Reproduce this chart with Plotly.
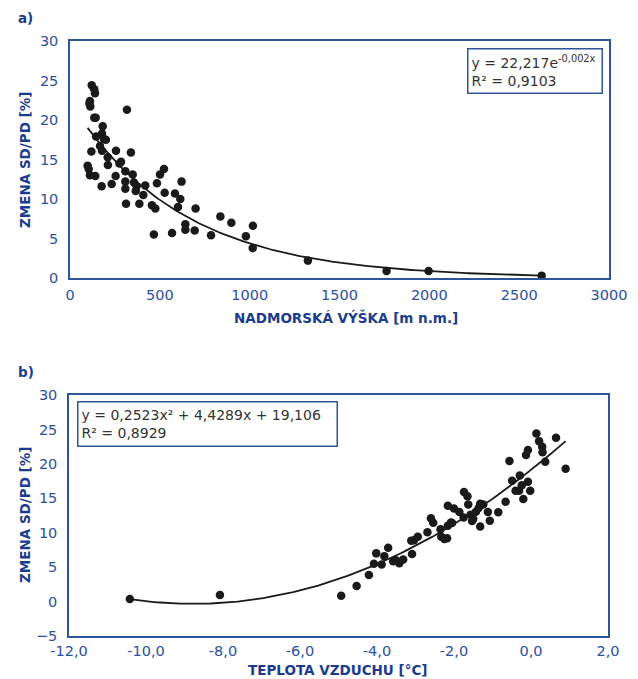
import numpy as np
import plotly.graph_objects as go

# ---- Panel a data: altitude [m a.s.l.] vs change SD/PD [%]
altitude = [121, 135, 139, 111, 108, 113, 135, 143, 317, 98,
            104, 111, 141, 119, 145, 182, 178, 200, 189, 167,
            178, 210, 211, 176, 232, 256, 284, 275, 254, 308,
            339, 349, 308, 308, 312, 356, 371, 366, 386, 419,
            408, 456, 475, 467, 484, 501, 523, 527, 568, 584,
            614, 601, 621, 642, 642, 694, 699, 785, 837, 898,
            979, 1018, 1017, 1324, 1762, 1996, 2625]
change_a = [24.4, 23.9, 23.4, 22.4, 22.1, 21.7, 20.3, 20.3, 21.3, 14.2,
            13.8, 13.0, 12.9, 16.0, 17.9, 19.2, 18.3, 17.5, 17.6, 16.7,
            16.1, 15.3, 14.3, 11.6, 11.9, 16.1, 14.7, 14.5, 12.9, 13.5,
            15.9, 13.1, 12.2, 11.3, 9.4, 12.1, 11.6, 11.0, 9.4, 11.7,
            10.5, 9.2, 8.8, 5.5, 12.0, 13.1, 13.8, 10.8, 5.7, 10.7,
            10.0, 9.0, 12.2, 6.8, 6.1, 6.0, 8.8, 5.4, 7.8, 7.0,
            5.3, 6.6, 3.8, 2.2, 0.9, 0.9, 0.3]

# ---- Panel b data: air temperature [°C] vs change SD/PD [%]
temperature = [-10.42, -8.08, -4.93, -4.53, -4.21, -4.08, -4.02, -3.88, -3.81, -3.71,
               -3.58, -3.51, -3.42, -3.32, -3.09, -3.11, -3.04, -2.94, -2.69, -2.60,
               -2.54, -2.35, -2.33, -2.25, -2.18, -2.16, -2.08, -2.05, -2.16, -2.00,
               -1.86, -1.75, -1.74, -1.65, -1.63, -1.57, -1.50, -1.53, -1.43, -1.36,
               -1.32, -1.24, -1.32, -1.12, -1.07, -0.85, -0.66, -0.56, -0.49, -0.40,
               -0.29, -0.31, -0.24, -0.20, -0.08, -0.02, -0.13, -0.08, 0.14, 0.21,
               0.29, 0.30, 0.37, 0.65, 0.90]
change_b = [0.38, 0.96, 0.86, 2.26, 3.86, 5.5, 7.0, 5.4, 6.6, 7.8,
            5.85, 6.0, 5.55, 6.1, 6.9, 8.85, 8.9, 9.4, 10.06, 12.1,
            11.45, 10.5, 9.4, 9.1, 9.2, 11.0, 11.5, 11.4, 13.9, 13.5,
            13.0, 12.2, 15.9, 15.3, 14.1, 12.6, 12.0, 11.7, 13.05, 13.6,
            14.2, 14.1, 10.9, 13.0, 11.75, 12.96, 14.5, 20.4, 17.55, 16.1,
            18.3, 16.1, 16.9, 14.9, 17.4, 16.1, 21.3, 22.0, 24.4, 23.3,
            22.5, 21.7, 20.3, 23.8, 19.3]

# quadratic trend coefficients shown in panel b
quad_coef = [0.2523, 4.4289, 19.106]

xticks_a = [0, 500, 1000, 1500, 2000, 2500, 3000]
yticks_a = [0, 5, 10, 15, 20, 25, 30]
xticks_b = [-12, -10, -8, -6, -4, -2, 0, 2]
xticklabels_b = ["-12,0", "-10,0", "-8,0", "-6,0", "-4,0", "-2,0", "0,0", "2,0"]
yticks_b = [-5, 0, 5, 10, 15, 20, 25, 30]

eq_a = ["y = 22,217e<sup>-0,002x</sup>", "R² = 0,9103"]
eq_b = ["y = 0,2523x² + 4,4289x + 19,106", "R² = 0,8929"]

# ---- trend lines (fitted like an Excel trendline)
xa = np.array(altitude, float)
ya = np.array(change_a, float)
b_fit, ln_a = np.polyfit(xa, np.log(ya), 1)
xa_line = np.linspace(xa.min(), xa.max(), 200)
ya_line = np.exp(ln_a) * np.exp(b_fit * xa_line)

xb = np.array(temperature, float)
xb_line = np.linspace(xb.min(), xb.max(), 200)
yb_line = np.polyval(quad_coef, xb_line)

W, H = 638, 679
FONT = "DejaVu Sans"
TICK_COL = "#2d4f9e"
LINE_COL = "#2e5597"
TITLE_COL = "#1b3c8c"

def px_x(p):
    return p / W

def px_y(p):
    return 1 - p / H

fig = go.Figure()
mk = dict(color="#1a1a1a", size=8.5)
fig.add_trace(go.Scatter(x=altitude, y=change_a, mode="markers", marker=mk,
                         xaxis="x", yaxis="y", showlegend=False))
fig.add_trace(go.Scatter(x=xa_line, y=ya_line, mode="lines",
                         line=dict(color="#1a1a1a", width=1.8),
                         xaxis="x", yaxis="y", showlegend=False))
fig.add_trace(go.Scatter(x=temperature, y=change_b, mode="markers", marker=mk,
                         xaxis="x2", yaxis="y2", showlegend=False))
fig.add_trace(go.Scatter(x=xb_line, y=yb_line, mode="lines",
                         line=dict(color="#1a1a1a", width=1.8),
                         xaxis="x2", yaxis="y2", showlegend=False))

ax_common = dict(showgrid=False, zeroline=False, showline=True, mirror=True,
                 linecolor=LINE_COL, linewidth=1.5, ticks="", automargin=False,
                 tickfont=dict(family=FONT, size=14.5, color=TICK_COL))

fig.update_layout(
    width=W, height=H,
    margin=dict(l=0, r=0, t=0, b=0),
    paper_bgcolor="white", plot_bgcolor="white",
    xaxis=dict(domain=[px_x(70), px_x(609)], range=[0, 3000], tickvals=xticks_a,
               anchor="y", ticklabelstandoff=3, **ax_common),
    yaxis=dict(domain=[px_y(278), px_y(41)], range=[0, 30], tickvals=yticks_a,
               anchor="x", ticklabelstandoff=7, **ax_common),
    xaxis2=dict(domain=[px_x(69), px_x(608)], range=[-12, 2], tickvals=xticks_b,
                ticktext=xticklabels_b, anchor="y2", ticklabelstandoff=1,
                **ax_common),
    yaxis2=dict(domain=[px_y(636), px_y(395)], range=[-5, 30], tickvals=yticks_b,
                anchor="x2", ticklabelstandoff=7, **ax_common),
)

title_font = dict(family=FONT, size=13.5, color=TITLE_COL, weight="bold")
eq_font = dict(family=FONT, size=14, color="#333333")

annots = [
    dict(text="a)", x=px_x(16), y=px_y(18), xanchor="left", yanchor="middle"),
    dict(text="b)", x=px_x(16), y=px_y(372), xanchor="left", yanchor="middle"),
    dict(text="NADMORSKÁ VÝŠKA [m n.m.]", x=px_x(346), y=px_y(317),
         xanchor="center", yanchor="middle"),
    dict(text="TEPLOTA VZDUCHU [°C]", x=px_x(338), y=px_y(670),
         xanchor="center", yanchor="middle"),
    dict(text="ZMENA SD/PD [%]", x=px_x(25), y=px_y(160), textangle=-90,
         xanchor="center", yanchor="middle"),
    dict(text="ZMENA SD/PD [%]", x=px_x(25), y=px_y(515), textangle=-90,
         xanchor="center", yanchor="middle"),
]
for a in annots:
    fig.add_annotation(xref="paper", yref="paper", showarrow=False,
                       font=title_font, **a)

fig.add_annotation(xref="paper", yref="paper", showarrow=False,
                   text="<br>".join(eq_a), align="left",
                   x=px_x(467), y=px_y(48), xanchor="left", yanchor="top",
                   width=127, height=37, borderpad=3, bordercolor=LINE_COL,
                   borderwidth=1.5, bgcolor="white", font=eq_font)
fig.add_annotation(xref="paper", yref="paper", showarrow=False,
                   text="<br>".join(eq_b), align="left",
                   x=px_x(77), y=px_y(401), xanchor="left", yanchor="top",
                   width=252, height=37, borderpad=3, bordercolor=LINE_COL,
                   borderwidth=1.5, bgcolor="white", font=eq_font)

fig.write_html("out.html")
